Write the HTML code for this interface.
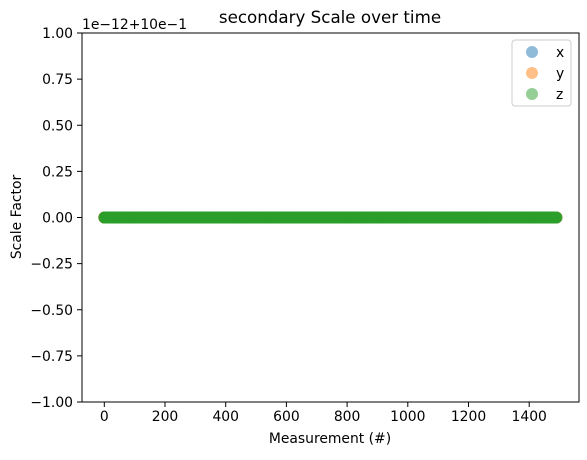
<!DOCTYPE html>
<html><head><meta charset="utf-8"><style>
body{margin:0;background:#fff;}
svg text{font-family:"DejaVu Sans","Liberation Sans",sans-serif;fill:#000;}
</style></head><body>
<svg id="c" width="587" height="455" xmlns="http://www.w3.org/2000/svg">
<rect width="587" height="455" fill="#fff"/>
<text x="330" y="23" font-size="16.7" text-anchor="middle">secondary Scale over time</text>
<text x="82" y="29" font-size="13.9">1e−12+10e−1</text>
<g id="marks"></g>
<rect x="82" y="33" width="497" height="369" fill="none" stroke="#000" stroke-width="1"/>
<g id="ticks"></g>
<text x="330" y="443" font-size="13.9" text-anchor="middle">Measurement (#)</text>
<text transform="translate(21,217) rotate(-90)" font-size="13.9" text-anchor="middle">Scale Factor</text>
<g>
<rect x="512" y="40" width="59" height="66" rx="3" fill="#fff" fill-opacity="0.8" stroke="#ccc"/>
<g><circle cx="532" cy="52" r="6" fill="#1f77b4" fill-opacity="0.5"/><text x="556" y="57" font-size="13.9">x</text></g>
<g><circle cx="532" cy="73" r="6" fill="#ff7f0e" fill-opacity="0.5"/><text x="556" y="78" font-size="13.9">y</text></g>
<g><circle cx="532" cy="94" r="6" fill="#2ca02c" fill-opacity="0.5"/><text x="556" y="99" font-size="13.9">z</text></g>
</g>
</svg>
<script>
const measurementCount = 1491;
const xValues = new Array(measurementCount).fill(0);
const yValues = new Array(measurementCount).fill(0);
const zValues = new Array(measurementCount).fill(0);
const xTicks = [0,200,400,600,800,1000,1200,1400];
const yTicks = [-1.00,-0.75,-0.50,-0.25,0.00,0.25,0.50,0.75,1.00];
const seriesNames = ['x','y','z'];

const NS='http://www.w3.org/2000/svg';
function sx(v){return 104.3 + v*(60.7/200);}
function sy(v){return 217.5 - v*184.5;}
const marks=document.getElementById('marks');
const colors=['#1f77b4','#ff7f0e','#2ca02c'];
[xValues,yValues,zValues].forEach((arr,si)=>{
  const g=document.createElementNS(NS,'g');
  
  
  arr.forEach((v,i)=>{
    const c=document.createElementNS(NS,'circle');
    c.setAttribute('cx',sx(i));c.setAttribute('cy',sy(v));c.setAttribute('r',6);
    c.setAttribute('fill',colors[si]);c.setAttribute('fill-opacity',0.5);
    
    
    g.appendChild(c);
  });
  marks.appendChild(g);
});
const tk=document.getElementById('ticks');
xTicks.forEach(t=>{
  const x=sx(t);
  const l=document.createElementNS(NS,'line');
  l.setAttribute('x1',x);l.setAttribute('x2',x);l.setAttribute('y1',402);l.setAttribute('y2',407);l.setAttribute('stroke','#000');
  
  
  tk.appendChild(l);
  const s=document.createElementNS(NS,'text');
  s.setAttribute('x',x);s.setAttribute('y',421);s.setAttribute('font-size','13.9');s.setAttribute('text-anchor','middle');
  s.textContent=t;
  
  
  tk.appendChild(s);
});
yTicks.forEach(t=>{
  const y=sy(t);
  const l=document.createElementNS(NS,'line');
  l.setAttribute('x1',77);l.setAttribute('x2',82);l.setAttribute('y1',y);l.setAttribute('y2',y);l.setAttribute('stroke','#000');
  
  
  tk.appendChild(l);
  const s=document.createElementNS(NS,'text');
  s.setAttribute('x',73);s.setAttribute('y',y+5);s.setAttribute('font-size','13.9');s.setAttribute('text-anchor','end');
  s.textContent=t.toFixed(2).replace('-','−');
  
  
  tk.appendChild(s);
});
</script>
</body></html>
